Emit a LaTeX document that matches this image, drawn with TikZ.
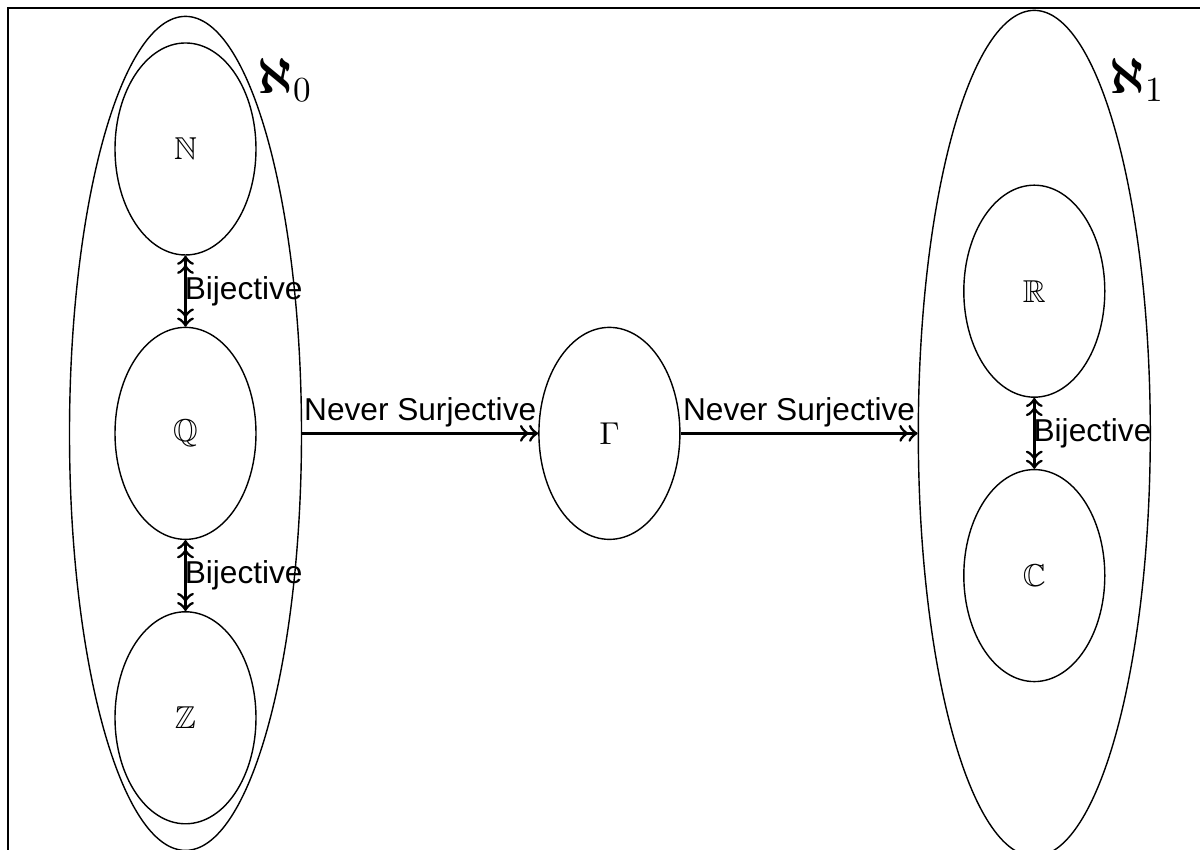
\documentclass[tikz,border=0pt]{standalone}
\usepackage{amssymb}
\usepackage{amsmath}
\usepackage{fontspec}
\setsansfont{Liberation Sans}
\usepackage{tikz}
\usetikzlibrary{shapes.geometric, positioning}

\tikzset{
    numset/.style={draw, ellipse, minimum width=1.41cm, minimum height=2.12cm, inner sep=0pt},
    cardset/.style={draw, ellipse, minimum width=2.32cm, minimum height=8.34cm, inner sep=0pt},
    maplabel/.style={font=\fontsize{9}{11}\sffamily\selectfont, inner sep=1.5pt},
}

\begin{document}
\begin{tikzpicture}[font=\fontsize{9}{11}\selectfont]
    \useasboundingbox (0,0) rectangle (12,8.5);
    \clip (0,0) rectangle (12,8.5);
    % frame
    \draw[line width=0.5pt] (0.08,-1) rectangle (13,8.42);

    % countable sets
    \node[numset] (nat) at (1.855,7.01) {$\mathbb{N}$};
    \node[numset, below=0.71cm of nat] (rat) {$\mathbb{Q}$};
    \node[numset, below=0.71cm of rat] (int) {$\mathbb{Z}$};
    \node[cardset] (alephzero) at (rat) {};
    \node at (2.85,7.70) {\fontsize{14}{16}\selectfont$\boldsymbol{\aleph}_0$};

    % middle set
    \node[numset, right=2.36cm of alephzero] (gam) {$\Gamma$};

    % uncountable sets
    \node[cardset, minimum height=8.46cm, right=2.37cm of gam] (alephone) {};
    \node[numset, above=0.355cm of alephone.center] (real) {$\mathbb{R}$};
    \node[numset, below=0.355cm of alephone.center] (cplx) {$\mathbb{C}$};
    \node at (11.37,7.70) {\fontsize{14}{16}\selectfont$\boldsymbol{\aleph}_1$};

    % maps
    \draw[<<->>, thick] (nat) -- node[maplabel, right, inner sep=0pt, xshift=-0.6pt] {Bijective} (rat);
    \draw[<<->>, thick] (rat) -- node[maplabel, right, inner sep=0pt, xshift=-0.6pt] {Bijective} (int);
    \draw[<<->>, thick] (real) -- node[maplabel, right, inner sep=0pt, xshift=-0.6pt] {Bijective} (cplx);
    \draw[->>, thick] (alephzero) -- node[maplabel, above] {Never Surjective} (gam);
    \draw[->>, thick] (gam) -- node[maplabel, above] {Never Surjective} (alephone);
\end{tikzpicture}
\end{document}
